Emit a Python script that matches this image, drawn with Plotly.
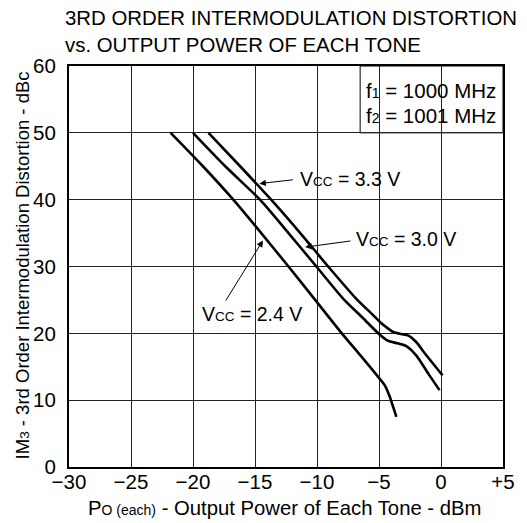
import plotly.graph_objects as go

# ---- data ----
x_24 = [-21.8, -19.2, -16.75, -14.5, -12.3, -10.15, -8.0, -6.5, -5.05, -4.53, -4.13, -3.86, -3.6]
y_24 = [50, 45, 40, 35, 30, 25, 20, 16.7, 13.45, 12.2, 10.5, 9.0, 7.5]

x_30 = [-20.0, -17.4, -14.6, -12.3, -10.05, -7.8, -6.3, -5.0, -4.3, -3.5, -2.8, -2.0, -1.0, -0.12]
y_30 = [50, 45, 40, 35, 30, 25.0, 22.3, 19.9, 18.9, 18.5, 18.1, 16.7, 13.9, 11.5]

x_33 = [-18.75, -16.2, -13.7, -11.35, -9.1, -6.75, -5.6, -4.93, -4.4, -3.86, -3.2, -2.66, -2.0, -1.47, 0.13]
y_33 = [50, 45, 40, 35, 30, 25.0, 22.95, 21.7, 20.9, 20.2, 19.9, 19.7, 18.7, 17.4, 13.7]

x_ticks = [-30, -25, -20, -15, -10, -5, 0, 5]
x_ticktext = ["\u221230", "\u221225", "\u221220", "\u221215", "\u221210", "\u22125", "0", "+5"]
y_ticks = [0, 10, 20, 30, 40, 50, 60]

FONT = "Liberation Sans, Arial, Helvetica, sans-serif"

fig = go.Figure()
for xs, ys in [(x_24, y_24), (x_30, y_30), (x_33, y_33)]:
    fig.add_trace(go.Scatter(x=xs, y=ys, mode="lines",
                             line=dict(color="black", width=2.6, shape="spline", smoothing=0.7),
                             showlegend=False, hoverinfo="skip"))

# legend-style box in the upper right
fig.add_shape(type="rect", xref="x", yref="y", x0=-6.52, x1=5, y0=50, y1=60,
              fillcolor="white", line=dict(color="black", width=1), layer="below")

annotations = []
box_font = dict(family=FONT, size=20.5, color="black")
annotations.append(dict(x=-6.25, y=56.4, xref="x", yref="y", xanchor="left", yanchor="middle",
                        text="f<span style='font-size:14px'>1</span> = 1000 MHz", showarrow=False,
                        font=box_font))
annotations.append(dict(x=-6.25, y=52.6, xref="x", yref="y", xanchor="left", yanchor="middle",
                        text="f<span style='font-size:14px'>2</span> = 1001 MHz", showarrow=False,
                        font=box_font))

vcc = "V<span style='font-size:13.5px'>CC</span>"
ann_font = dict(family=FONT, size=19.5, color="black")
labels = [
    # text, text_x(left), text_y, tip_x, tip_y, tail_x, tail_y
    (vcc + " = 3.3 V", -11.55, 43.1, -14.65, 42.4, -11.83, 43.0),
    (vcc + " = 3.0 V", -7.0, 34.1, -10.95, 32.9, -7.18, 33.85),
    (vcc + " = 2.4 V", -19.4, 22.9, -14.36, 33.9, -17.42, 24.7),
]
for txt, tx, ty, px, py, ax, ay in labels:
    annotations.append(dict(x=tx, y=ty, xref="x", yref="y", xanchor="left", yanchor="middle",
                            text=txt, showarrow=False, font=ann_font))
    annotations.append(dict(x=px, y=py, xref="x", yref="y", ax=ax, ay=ay, axref="x", ayref="y",
                            text="", showarrow=True, arrowhead=2, arrowsize=1.3, arrowwidth=1,
                            arrowcolor="black", standoff=0, startstandoff=0))

title_font = dict(family=FONT, size=20.4, color="black")
annotations.append(dict(x=-0.0134, y=1.119, xref="paper", yref="paper", xanchor="left", yanchor="middle",
                        text="3RD ORDER INTERMODULATION DISTORTION", showarrow=False, font=title_font))
annotations.append(dict(x=-0.0134, y=1.052, xref="paper", yref="paper", xanchor="left", yanchor="middle",
                        text="vs. OUTPUT POWER OF EACH TONE", showarrow=False, font=title_font))
annotations.append(dict(x=0.496, y=-0.103, xref="paper", yref="paper", xanchor="center", yanchor="middle",
                        text="P<span style='font-size:14px'>O (each)</span> - Output Power of Each Tone - dBm",
                        showarrow=False, font=dict(family=FONT, size=20.3, color="black")))
annotations.append(dict(x=-0.1076, y=0.5035, xref="paper", yref="paper", xanchor="center", yanchor="middle",
                        textangle=-90,
                        text="IM<span style='font-size:13.5px'>3</span> - 3rd Order Intermodulation Distortion - dBc",
                        showarrow=False, font=dict(family=FONT, size=18.5, color="black")))

# page body has an 8px margin; figure is sized/offset to put the plot area where the reference has it
fig.update_layout(
    width=519, height=515,
    margin=dict(l=61, r=19, t=58, b=56, pad=0),
    paper_bgcolor="white", plot_bgcolor="white",
    font=dict(family=FONT, size=20, color="black"),
    annotations=annotations,
)
tick_font = dict(family=FONT, size=20.5, color="black")
fig.update_xaxes(range=[-30, 5], tickmode="array", tickvals=x_ticks, ticktext=x_ticktext,
                 showgrid=True, gridcolor="#222222", gridwidth=1, zeroline=False,
                 showline=True, linecolor="black", linewidth=2, mirror=True,
                 ticks="", ticklen=0, ticklabelstandoff=-5, tickfont=tick_font)
fig.update_yaxes(range=[0, 60], tickmode="array", tickvals=y_ticks,
                 showgrid=True, gridcolor="#222222", gridwidth=1, zeroline=False,
                 showline=True, linecolor="black", linewidth=2, mirror=True,
                 ticks="", ticklen=0, ticklabelstandoff=7, tickfont=tick_font)

fig.write_html("out.html")
